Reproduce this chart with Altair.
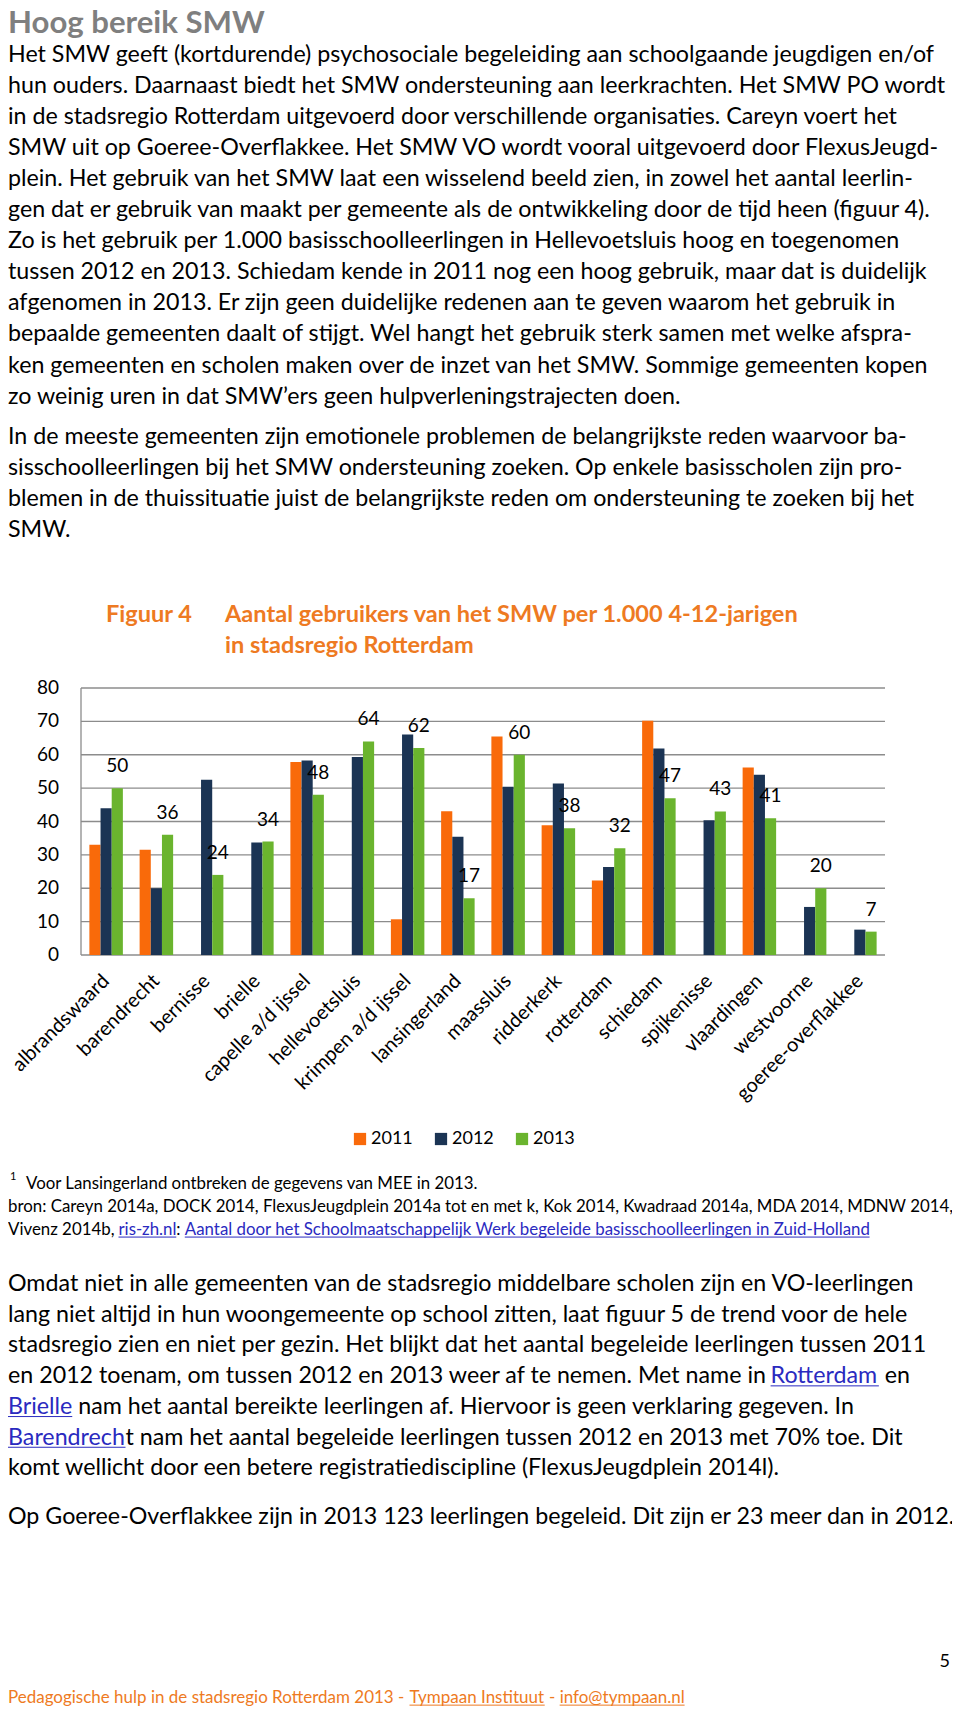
import altair as alt
import pandas as pd
import glob
import os
import struct

FONT = "Lato"
W, H = 944, 1704

# ---------------- chart data ----------------
categories = ["albrandswaard", "barendrecht", "bernisse", "brielle", "capelle a/d ijssel",
              "hellevoetsluis", "krimpen a/d ijssel", "lansingerland", "maassluis", "ridderkerk",
              "rotterdam", "schiedam", "spijkenisse", "vlaardingen", "westvoorne", "goeree-overflakkee"]
years = ["2011", "2012", "2013"]
v2011 = [33, 31.5, None, None, 57.8, None, 10.7, 43.1, 65.5, 38.9, 22.3, 70.2, None, 56.2, None, None]
v2012 = [44, 20, 52.5, 33.7, 58.3, 59.3, 66.1, 35.4, 50.4, 51.4, 26.4, 61.9, 40.4, 54, 14.4, 7.6]
v2013 = [50, 36, 24, 34, 48, 64, 62, 17, 60, 38, 32, 47, 43, 41, 20, 7]
labels2013 = ["50", "36", "24", "34", "48", "64", "62", "17", "60", "38", "32", "47", "43", "41", "20", "7"]
yticks = [0, 10, 20, 30, 40, 50, 60, 70, 80]
bar_colors = ["#F96A0A", "#1B3454", "#6AB42E"]

# ---------------- page text ----------------
page_title = ["Hoog bereik SMW"]
para1 = [
    "Het SMW geeft (kortdurende) psychosociale begeleiding aan schoolgaande jeugdigen en/of",
    "hun ouders. Daarnaast biedt het SMW ondersteuning aan leerkrachten. Het SMW PO wordt",
    "in de stadsregio Rotterdam uitgevoerd door verschillende organisaties. Careyn voert het",
    "SMW uit op Goeree-Overflakkee. Het SMW VO wordt vooral uitgevoerd door FlexusJeugd-",
    "plein. Het gebruik van het SMW laat een wisselend beeld zien, in zowel het aantal leerlin-",
    "gen dat er gebruik van maakt per gemeente als de ontwikkeling door de tijd heen (figuur 4).",
    "Zo is het gebruik per 1.000 basisschoolleerlingen in Hellevoetsluis hoog en toegenomen",
    "tussen 2012 en 2013. Schiedam kende in 2011 nog een hoog gebruik, maar dat is duidelijk",
    "afgenomen in 2013. Er zijn geen duidelijke redenen aan te geven waarom het gebruik in",
    "bepaalde gemeenten daalt of stijgt. Wel hangt het gebruik sterk samen met welke afspra-",
    "ken gemeenten en scholen maken over de inzet van het SMW. Sommige gemeenten kopen",
    "zo weinig uren in dat SMW\u2019ers geen hulpverleningstrajecten doen.",
]
para2 = [
    "In de meeste gemeenten zijn emotionele problemen de belangrijkste reden waarvoor ba-",
    "sisschoolleerlingen bij het SMW ondersteuning zoeken. Op enkele basisscholen zijn pro-",
    "blemen in de thuissituatie juist de belangrijkste reden om ondersteuning te zoeken bij het",
    "SMW.",
]
fig_label = ["Figuur 4"]
fig_title = ["Aantal gebruikers van het SMW per 1.000 4-12-jarigen", "in stadsregio Rotterdam"]
foot_sup = ["1"]
foot1 = ["Voor Lansingerland ontbreken de gegevens van MEE in 2013."]
foot2 = ["bron: Careyn 2014a, DOCK 2014, FlexusJeugdplein 2014a tot en met k, Kok 2014, Kwadraad 2014a, MDA 2014, MDNW 2014,"]
foot3 = ["Vivenz 2014b, ", "ris-zh.nl", ": ", "Aantal door het Schoolmaatschappelijk Werk begeleide basisschoolleerlingen in Zuid-Holland"]
para3 = [
    "Omdat niet in alle gemeenten van de stadsregio middelbare scholen zijn en VO-leerlingen",
    "lang niet altijd in hun woongemeente op school zitten, laat figuur 5 de trend voor de hele",
    "stadsregio zien en niet per gezin. Het blijkt dat het aantal begeleide leerlingen tussen 2011",
]
p3_l4 = ["en 2012 toenam, om tussen 2012 en 2013 weer af te nemen. Met name in ", "Rotterdam", " en"]
p3_l5 = ["Brielle", " nam het aantal bereikte leerlingen af. Hiervoor is geen verklaring gegeven. In"]
p3_l6 = ["Barendrech", "t nam het aantal begeleide leerlingen tussen 2012 en 2013 met 70% toe. Dit"]
p3_l7 = ["komt wellicht door een betere registratiediscipline (FlexusJeugdplein 2014l)."]
para4 = ["Op Goeree-Overflakkee zijn in 2013 123 leerlingen begeleid. Dit zijn er 23 meer dan in 2012."]
page_no = ["5"]
footer = ["Pedagogische hulp in de stadsregio Rotterdam 2013 - ", "Tympaan Instituut", " - ", "info@tympaan.nl"]

BLUE = "#2A2ABF"
ORANGE = "#EE7A22"


# ---------------- text measuring (reads the installed font's advance widths) ----------------
class FontWidths:
    def __init__(self, path):
        d = open(path, "rb").read()
        n = struct.unpack(">H", d[4:6])[0]
        tabs = {}
        for i in range(n):
            tag, _, off, ln = struct.unpack(">4sIII", d[12 + 16 * i:28 + 16 * i])
            tabs[tag.decode("latin1")] = off
        self.upm = struct.unpack(">H", d[tabs["head"] + 18:tabs["head"] + 20])[0]
        nhm = struct.unpack(">H", d[tabs["hhea"] + 34:tabs["hhea"] + 36])[0]
        o = tabs["hmtx"]
        self.adv = [struct.unpack(">H", d[o + 4 * i:o + 4 * i + 2])[0] for i in range(nhm)]
        self.map = {}
        c = tabs["cmap"]
        nsub = struct.unpack(">H", d[c + 2:c + 4])[0]
        best = None
        for i in range(nsub):
            pid, eid, so = struct.unpack(">HHI", d[c + 4 + 8 * i:c + 12 + 8 * i])
            fmt = struct.unpack(">H", d[c + so:c + so + 2])[0]
            if fmt == 4 and pid in (0, 3) and best is None:
                best = (4, c + so)
            if fmt == 12 and pid in (0, 3):
                best = (12, c + so)
        fmt, o = best
        if fmt == 4:
            seg2 = struct.unpack(">H", d[o + 6:o + 8])[0]
            seg = seg2 // 2
            ends = struct.unpack(">%dH" % seg, d[o + 14:o + 14 + seg2])
            starts = struct.unpack(">%dH" % seg, d[o + 16 + seg2:o + 16 + 2 * seg2])
            deltas = struct.unpack(">%dh" % seg, d[o + 16 + 2 * seg2:o + 16 + 3 * seg2])
            rpos = o + 16 + 3 * seg2
            roffs = struct.unpack(">%dH" % seg, d[rpos:rpos + seg2])
            for i in range(seg):
                for ch in range(starts[i], min(ends[i], 0x2100) + 1):
                    if roffs[i] == 0:
                        g = (ch + deltas[i]) & 0xFFFF
                    else:
                        a = rpos + 2 * i + roffs[i] + 2 * (ch - starts[i])
                        g = struct.unpack(">H", d[a:a + 2])[0]
                        g = (g + deltas[i]) & 0xFFFF if g else 0
                    self.map[ch] = g
        else:
            ng = struct.unpack(">I", d[o + 12:o + 16])[0]
            for i in range(ng):
                s, e, g0 = struct.unpack(">III", d[o + 16 + 12 * i:o + 28 + 12 * i])
                for ch in range(s, min(e, 0x2100) + 1):
                    self.map[ch] = g0 + ch - s

    def width(self, s, size):
        tot = 0
        for ch in s:
            g = self.map.get(ord(ch), 0)
            tot += self.adv[min(g, len(self.adv) - 1)]
        return tot * size / self.upm


class Approx:
    def width(self, s, size):
        return sum(0.22 if ch == " " else 0.5 for ch in s) * size


def load(names):
    roots = ["/usr/share/fonts", "/usr/local/share/fonts", os.path.expanduser("~/.fonts"),
             os.path.expanduser("~/.local/share/fonts")]
    for nm in names:
        for r in roots:
            for f in sorted(glob.glob(os.path.join(r, "**", nm), recursive=True)):
                try:
                    return FontWidths(f)
                except Exception:
                    pass
    return Approx()


REG = load(["Lato-Regular.ttf", "Lato-Regular.otf", "Lato-Reg.ttf"])
BLD = load(["Lato-Bold.ttf", "Lato-Bold.otf", "Lato-Bol.ttf"])
KERN = 0.995  # kerning makes rendered runs slightly shorter than the summed advances

# font sizes fitted to the reference's line lengths
BODY = min(949 / REG.width(para1[0], 1),
           950 / max(REG.width(s, 1) for s in para1 + para2 + para3 + para4))
TITLE = 258 / BLD.width(page_title[0], 1)
FIGT = 576 / BLD.width(fig_title[0], 1)
FN = min(458 / REG.width(foot1[0], 1), 950 / REG.width(foot2[0], 1))
FOOT = 680 / REG.width("".join(footer), 1)


def block(lines, y0, step, size, color="black", weight="normal", x=0, align="left"):
    n = len(lines)
    df = pd.DataFrame({"i": list(range(n)), "t": lines})
    return alt.Chart(df).mark_text(
        align=align, baseline="middle", font=FONT, fontSize=size,
        fontWeight=weight, color=color
    ).encode(
        x=alt.value(x),
        y=alt.Y("i:Q", scale=alt.Scale(domain=[0, n], range=[y0, y0 + n * step]), axis=None),
        text="t:N",
    )


def uline(x1, x2, y, color):
    return alt.Chart(pd.DataFrame({"u": [0]})).mark_rule(color=color, strokeWidth=1).encode(
        x=alt.value(x1), x2=alt.value(x2), y=alt.value(y))


def segline(parts, colors, links, y, size, ulcolor, x0=0):
    """One line made of coloured pieces laid side by side; 'links' get an underline."""
    out = []
    x = x0
    for p, c, lk in zip(parts, colors, links):
        w = REG.width(p, size) * KERN
        lead = REG.width(p[:len(p) - len(p.lstrip(" "))], size)
        txt = p.strip(" ")
        if txt:
            out.append(block([txt], y, 30, size, color=c, x=x + lead))
        if lk:
            out.append(uline(x + lead, x + lead + REG.width(txt, size) * KERN, y + 0.42 * size, ulcolor))
        x += w
    return out


# ---------------- bar chart ----------------
rows = []
for yr, vals in zip(years, [v2011, v2012, v2013]):
    for c, v in zip(categories, vals):
        if v is not None:
            rows.append({"cat": c, "year": yr, "value": v})
bars_df = pd.DataFrame(rows)
lab_df = pd.DataFrame({"cat": categories, "year": ["2013"] * len(categories),
                       "value": v2013, "lab": labels2013})
tick_df = pd.DataFrame({"t": yticks, "lab": [str(t) for t in yticks]})
cat_df = pd.DataFrame({"cat": categories})
axis_df = pd.DataFrame({"lo": [yticks[0]], "hi": [yticks[-1]]})

X0, X1 = 73, 877
Y0, Y1 = 947, 680


def xs():
    return alt.Scale(domain=categories, range=[X0, X1], paddingInner=1 / 3, paddingOuter=1 / 6)


def ys():
    return alt.Scale(domain=[0, 80], range=[Y0, Y1], nice=False)


grid = alt.Chart(tick_df).mark_rule(color="#8C8C8C", strokeWidth=1.3).encode(
    y=alt.Y("t:Q", scale=ys(), axis=None), x=alt.value(X0), x2=alt.value(X1))
vaxis = alt.Chart(axis_df).mark_rule(color="#8C8C8C", strokeWidth=1.3).encode(
    x=alt.value(X0), y=alt.Y("hi:Q", scale=ys(), axis=None), y2="lo:Q")
ticklabs = alt.Chart(tick_df).mark_text(align="right", baseline="middle", font=FONT, fontSize=19,
                                        color="black").encode(
    y=alt.Y("t:Q", scale=ys(), axis=None), x=alt.value(51), text="lab:N")

bars = alt.Chart(bars_df).mark_bar().encode(
    x=alt.X("cat:N", sort=categories, scale=xs(), axis=None),
    xOffset=alt.XOffset("year:N", sort=years, scale=alt.Scale(domain=years)),
    y=alt.Y("value:Q", scale=ys(), axis=None),
    color=alt.Color("year:N", scale=alt.Scale(domain=years, range=bar_colors),
                    legend=alt.Legend(orient="none", legendX=343, legendY=1122, direction="horizontal",
                                      title=None, symbolType="square", symbolSize=150,
                                      symbolStrokeWidth=0, symbolOpacity=1,
                                      labelFont=FONT, labelFontSize=18, labelColor="black",
                                      labelOffset=2, columnPadding=19)),
)
vlabels = alt.Chart(lab_df).mark_text(baseline="middle", font=FONT, fontSize=19, color="black", dy=-22).encode(
    x=alt.X("cat:N", sort=categories, scale=xs(), axis=None),
    xOffset=alt.XOffset("year:N", sort=years, scale=alt.Scale(domain=years)),
    y=alt.Y("value:Q", scale=ys(), axis=None),
    text="lab:N",
)
catlabels = alt.Chart(cat_df).mark_text(align="right", baseline="middle", angle=315, font=FONT,
                                        fontSize=20, color="black").encode(
    x=alt.X("cat:N", sort=categories, scale=xs(), axis=None, bandPosition=0.78),
    y=alt.value(970),
    text="cat:N",
)

layers = [
    block(page_title, 16, 30, TITLE, color="#7F7F7F", weight="bold"),
    block(para1, 46.5, 31.1, BODY),
    block(para2, 429, 31.0, BODY),
    block(fig_label, 607, 31, FIGT, color=ORANGE, weight="bold", x=98),
    block(fig_title, 607, 31, FIGT, color=ORANGE, weight="bold", x=217),
    grid, vaxis, ticklabs, bars, vlabels, catlabels,
    block(foot_sup, 1169, 20, 11, x=2),
    block(foot1, 1176, 23, FN, x=18),
    block(foot2, 1199, 23, FN),
]
layers += segline(foot3, ["black", BLUE, "black", BLUE], [False, True, False, True], 1222, FN, BLUE)
layers.append(block(para3, 1276, 30.7, BODY))
layers += segline(p3_l4, ["black", BLUE, "black"], [False, True, False], 1276 + 3 * 30.7, BODY, BLUE)
layers += segline(p3_l5, [BLUE, "black"], [True, False], 1276 + 4 * 30.7, BODY, BLUE)
layers += segline(p3_l6, [BLUE, "black"], [True, False], 1276 + 5 * 30.7, BODY, BLUE)
layers.append(block(p3_l7, 1276 + 6 * 30.7, 30.7, BODY))
layers.append(block(para4, 1509, 30.7, BODY))
layers.append(block(page_no, 1654, 20, 18, x=942, align="right"))
layers += segline(footer, [ORANGE] * 4, [False, True, False, True], 1690, FOOT, ORANGE)

chart = alt.layer(*layers).resolve_scale(
    x="independent", y="independent", color="independent"
).properties(
    width=W, height=H, padding=0, autosize=alt.AutoSizeParams(type="none")
).configure_view(stroke=None)

chart.save("out.html", embed_options={"renderer": "svg", "actions": False})
